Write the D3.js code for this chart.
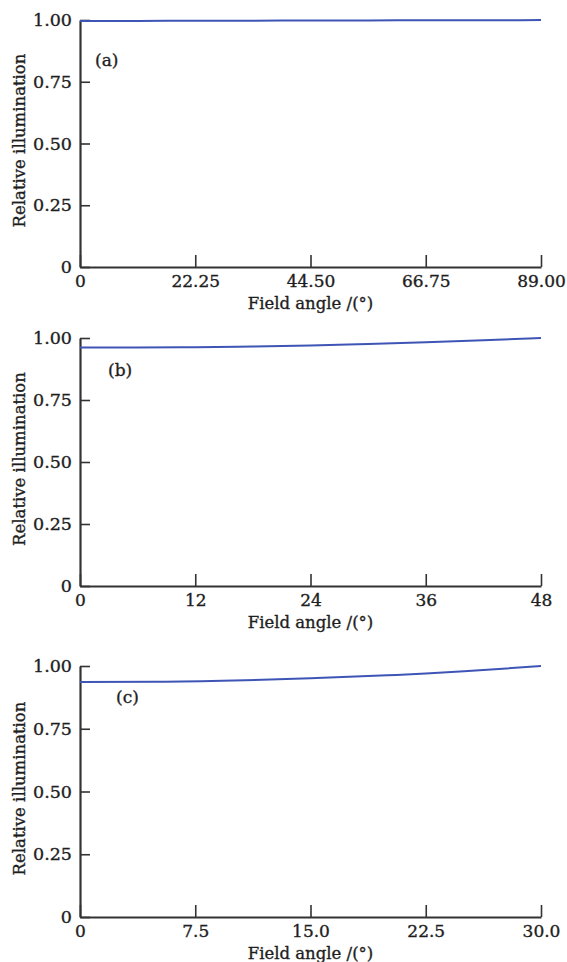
<!DOCTYPE html>
<html>
<head>
<meta charset="utf-8">
<script src="https://cdn.jsdelivr.net/npm/d3@7"></script>
<style>
  body { margin: 0; background: #fff; }
  text { font-family: "DejaVu Serif", serif; fill: #1e1e1e; stroke: #1e1e1e; stroke-width: 0.35px; }
</style>
</head>
<body>
<script>
// panel (a)
var anglesA = [0, 11.125, 22.25, 33.375, 44.5, 55.625, 66.75, 77.875, 89];
var illumA = [0.996, 0.996, 0.997, 0.997, 0.998, 0.998, 0.999, 0.999, 1.0];
var ticksA = [0, 22.25, 44.5, 66.75, 89];
var tickLabelsA = ["0", "22.25", "44.50", "66.75", "89.00"];
// panel (b)
var anglesB = [0, 6, 12, 18, 24, 30, 36, 42, 48];
var illumB = [0.962, 0.962, 0.963, 0.966, 0.970, 0.976, 0.983, 0.991, 1.0];
var ticksB = [0, 12, 24, 36, 48];
var tickLabelsB = ["0", "12", "24", "36", "48"];
// panel (c)
var anglesC = [0, 5, 10, 15, 20, 22.5, 25, 27.5, 30];
var illumC = [0.936, 0.937, 0.942, 0.951, 0.963, 0.970, 0.979, 0.989, 1.0];
var ticksC = [0, 7.5, 15, 22.5, 30];
var tickLabelsC = ["0", "7.5", "15.0", "22.5", "30.0"];

var yTicks = [0, 0.25, 0.5, 0.75, 1.0];
var yTickLabels = ["0", "0.25", "0.50", "0.75", "1.00"];

var width = 567, height = 962;
var svg = d3.select("body").append("svg")
    .attr("width", width)
    .attr("height", height);

var panels = [
    { tag: "(a)", xs: anglesA, ys: illumA, ticks: ticksA, labels: tickLabelsA, top: 20, bottom: 267, tagX: 95, tagY: 66 },
    { tag: "(b)", xs: anglesB, ys: illumB, ticks: ticksB, labels: tickLabelsB, top: 338, bottom: 586, tagX: 108, tagY: 376 },
    { tag: "(c)", xs: anglesC, ys: illumC, ticks: ticksC, labels: tickLabelsC, top: 666, bottom: 917, tagX: 116, tagY: 703 }
];

var left = 80, right = 541;
var axisColor = "#333";

panels.forEach(function (p) {
    var x = d3.scaleLinear().domain([0, p.ticks[p.ticks.length - 1]]).range([left, right]);
    var y = d3.scaleLinear().domain([0, 1]).range([p.bottom, p.top]);
    var g = svg.append("g");

    // y axis, ticks pointing inward
    var yAxis = d3.axisLeft(y).tickValues(yTicks).tickSizeInner(-10).tickSizeOuter(0)
        .tickFormat(function (d, i) { return yTickLabels[i]; });
    var ya = g.append("g").attr("transform", "translate(" + left + ",0)").call(yAxis);
    ya.select(".domain").attr("stroke", axisColor).attr("stroke-width", 2.2);
    ya.selectAll(".tick line").attr("stroke", axisColor).attr("stroke-width", 1.6);
    ya.selectAll(".tick text").attr("x", -8).attr("font-size", 17.5)
        .style("font-family", "'DejaVu Serif', serif");

    // x axis, ticks pointing up
    var xAxis = d3.axisBottom(x).tickValues(p.ticks).tickSizeInner(-12).tickSizeOuter(0)
        .tickFormat(function (d, i) { return p.labels[i]; });
    var xa = g.append("g").attr("transform", "translate(0," + p.bottom + ")").call(xAxis);
    xa.select(".domain").attr("stroke", axisColor).attr("stroke-width", 2.2);
    xa.selectAll(".tick line").attr("stroke", axisColor).attr("stroke-width", 1.6);
    xa.selectAll(".tick text").attr("y", 8).attr("font-size", 17)
        .style("font-family", "'DejaVu Serif', serif");

    // curve
    var line = d3.line()
        .x(function (d, i) { return x(p.xs[i]); })
        .y(function (d) { return y(d); })
        .curve(d3.curveMonotoneX);
    g.append("path").datum(p.ys)
        .attr("d", line)
        .attr("fill", "none")
        .attr("stroke", "#3f55b5")
        .attr("stroke-width", 2);

    // labels
    g.append("text").attr("x", p.tagX).attr("y", p.tagY)
        .attr("font-size", 17).text(p.tag);
    g.append("text")
        .attr("transform", "translate(25," + ((p.top + p.bottom) / 2 - 3) + ") rotate(-90)")
        .attr("text-anchor", "middle").attr("font-size", 16.5)
        .text("Relative illumination");
    g.append("text")
        .attr("x", (left + right) / 2).attr("y", p.bottom + 42)
        .attr("text-anchor", "middle").attr("font-size", 16.5)
        .text("Field angle /(°)");
});
</script>
</body>
</html>
